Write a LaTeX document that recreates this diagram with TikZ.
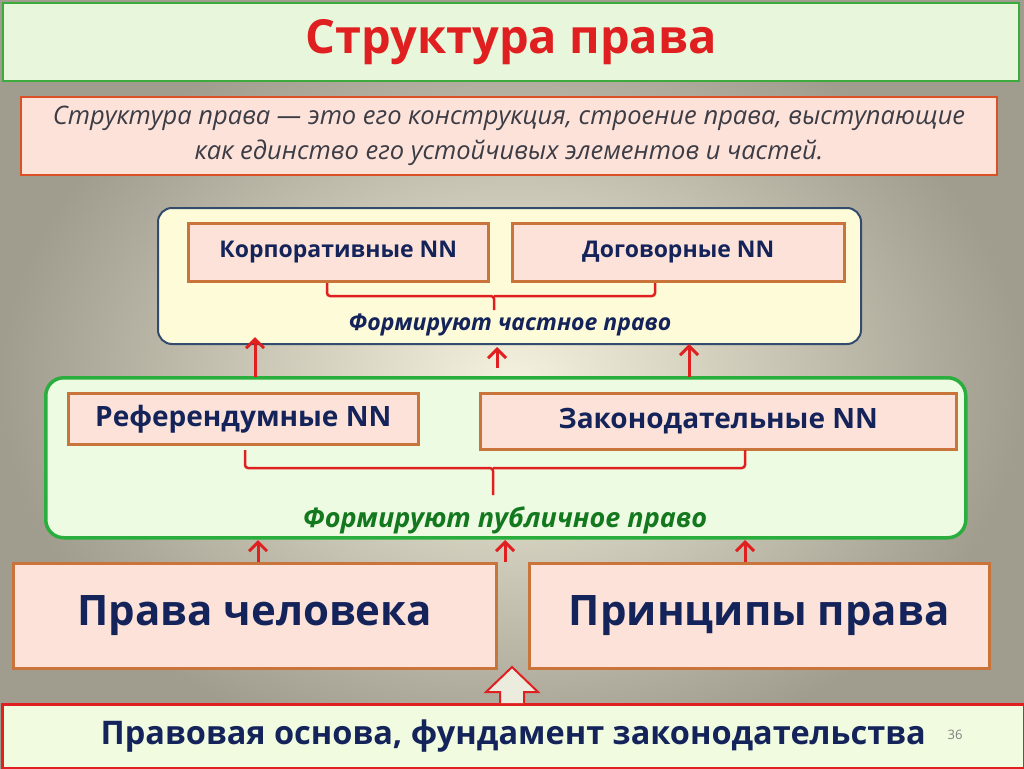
\documentclass[tikz,border=0pt]{standalone}
\usepackage{fontspec}
\setmainfont{Open Sans}
\usetikzlibrary{arrows.meta}
\definecolor{dblue}{HTML}{14245A}
\definecolor{rred}{HTML}{E02020}
\definecolor{orbr}{HTML}{C8743A}
\definecolor{pinkf}{HTML}{FCE2D8}
\definecolor{ggreen}{HTML}{2AAE3E}
\tikzset{
 inner/.style={draw=orbr,line width=2.5pt,fill=pinkf,text=dblue},
 uparr/.style={draw=rred,line width=3pt,-{Straight Barb[length=9pt,width=18pt,line width=3pt]}},
 brace/.style={draw=rred,line width=2.5pt,rounded corners=3pt},
}
\begin{document}
\begin{tikzpicture}[x=1pt,y=-1pt]
\useasboundingbox (0,0) rectangle (1024,768);
\shade[inner color={rgb,255:red,245;green,242;blue,222},outer color={rgb,255:red,160;green,156;blue,142}] (0,0) rectangle (1024,768);
% title
\node[draw={rgb,255:red,60;green,170;blue,60},line width=2pt,fill={rgb,255:red,232;green,246;blue,220},minimum width=1016pt,minimum height=78pt,anchor=north west,text=rred,font=\bfseries\fontsize{47}{51}\selectfont] (title) at (2,2) {Структура права};
% definition
\node[draw={rgb,255:red,220;green,80;blue,40},line width=2pt,fill=pinkf,minimum width=976pt,minimum height=78pt,anchor=north west,align=center,text={rgb,255:red,60;green,60;blue,70},font=\itshape\fontsize{25.5}{35}\selectfont] (def) at (20,96) {Структура права — это его конструкция, строение права, выступающие\\как единство его устойчивых элементов и частей.};
% top group
\node[draw={rgb,255:red,50;green,75;blue,110},line width=2pt,fill={rgb,255:red,254;green,251;blue,216},rounded corners=14pt,minimum width=703pt,minimum height=136pt,anchor=north west] (top) at (157,207) {};
\node[inner,minimum width=300pt,minimum height=58pt,anchor=north west,font=\bfseries\fontsize{23}{25}\selectfont] (korp) at (187,222) {Корпоративные NN};
\node[inner,minimum width=332pt,minimum height=58pt,anchor=north west,font=\bfseries\fontsize{23}{25}\selectfont] (dog) at (511,222) {Договорные NN};
\draw[brace] (327,283) -- (327,296) -- (494,296) -- (494,310) (494,296) -- (655,296) -- (655,283);
\node[text=dblue,font=\bfseries\itshape\fontsize{23}{25}\selectfont] (chast) at (510,325) {Формируют частное право};
% middle group
\node[draw=ggreen,line width=3.5pt,fill={rgb,255:red,236;green,251;blue,226},rounded corners=18pt,minimum width=920pt,minimum height=160pt,anchor=north west] (mid) at (44,376) {};
\node[inner,minimum width=350pt,minimum height=51pt,anchor=north west,font=\bfseries\fontsize{28}{30}\selectfont] (ref) at (67,392) {Референдумные NN};
\node[inner,minimum width=476pt,minimum height=56pt,anchor=north west,font=\bfseries\fontsize{28}{30}\selectfont] (zak) at (479,392) {Законодательные NN};
\draw[brace] (245,450) -- (245,468) -- (493,468) -- (493,495) (493,468) -- (745,468) -- (745,450);
\node[text={rgb,255:red,20;green,120;blue,30},font=\bfseries\itshape\fontsize{27}{29}\selectfont] (publ) at (505,520) {Формируют публичное право};
% bottom boxes
\node[inner,minimum width=483pt,minimum height=105pt,anchor=north west,font=\bfseries\fontsize{42}{46}\selectfont] (hum) at (12,562) {Права человека};
\node[inner,minimum width=460pt,minimum height=105pt,anchor=north west,font=\bfseries\fontsize{42}{46}\selectfont] (prin) at (528,562) {Принципы права};
\node[draw=rred,line width=2.5pt,fill={rgb,255:red,240;green,251;blue,224},minimum width=1022pt,minimum height=64pt,anchor=north west,text=dblue,font=\bfseries\fontsize{32.5}{36}\selectfont] (base) at (1,703) {Правовая основа, фундамент законодательства};
\node[text=gray,font=\fontsize{13}{14}\selectfont] (num) at (955,735) {36};
% arrows top
\coordinate (a1) at (255,377); \coordinate (b1) at (255,337);
\coordinate (a2) at (497,368); \coordinate (b2) at (497,347);
\coordinate (a3) at (689,377); \coordinate (b3) at (689,344);
\draw[uparr] (a1) -- (b1);
\draw[uparr] (a2) -- (b2);
\draw[uparr] (a3) -- (b3);
\coordinate (c1) at (258,562); \coordinate (d1) at (258,540);
\coordinate (c2) at (505,562); \coordinate (d2) at (505,540);
\coordinate (c3) at (745,562); \coordinate (d3) at (745,540);
\draw[uparr] (c1) -- (d1);
\draw[uparr] (c2) -- (d2);
\draw[uparr] (c3) -- (d3);
% block arrow
\draw[draw=rred,line width=2pt,fill={rgb,255:red,236;green,236;blue,222}] (500,703) -- (500,692) -- (486,692) -- (512,667) -- (538,692) -- (524,692) -- (524,703);
\end{tikzpicture}
\end{document}
